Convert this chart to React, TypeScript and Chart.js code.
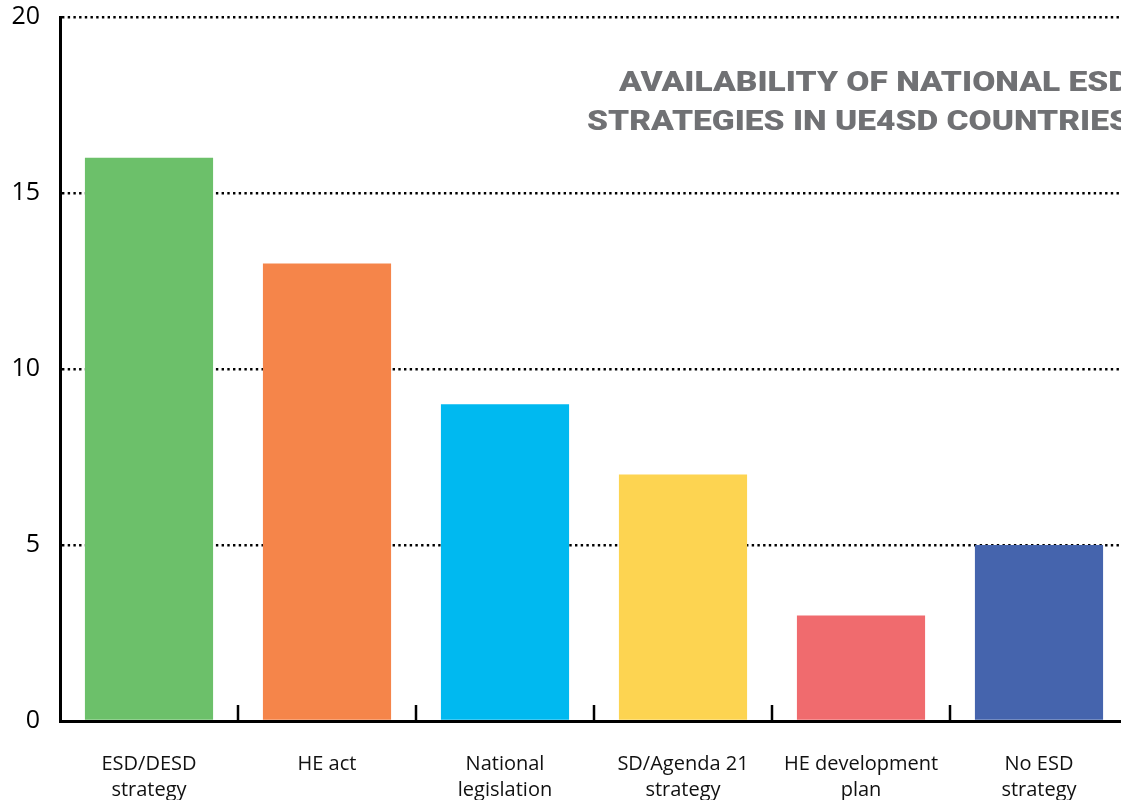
import React, { useEffect, useRef } from "react";
import { Chart, registerables } from "chart.js";

Chart.register(...registerables);

const categories: string[][] = [
  ["ESD/DESD", "strategy"],
  ["HE act"],
  ["National", "legislation"],
  ["SD/Agenda 21", "strategy"],
  ["HE development", "plan"],
  ["No ESD", "strategy"],
];
const values: number[] = [16, 13, 9, 7, 3, 5];
const barColors: string[] = ["#6cc06a", "#f5854a", "#00b9f0", "#fdd451", "#f06b6e", "#4564ad"];
const yTicks: number[] = [0, 5, 10, 15, 20];
const titleLines: string[] = ["AVAILABILITY OF NATIONAL ESD", "STRATEGIES IN UE4SD COUNTRIES"];

const SHIFT = 18;

const extrasPlugin = {
  id: "extras",
  afterDraw(chart: any) {
    const ctx = chart.ctx as CanvasRenderingContext2D;
    const x = chart.scales.x;
    const area = chart.chartArea;
    ctx.save();
    ctx.strokeStyle = "#000";
    ctx.lineWidth = 2.5;
    for (let i = 1; i < categories.length; i++) {
      const px = (x.getPixelForValue(i - 1) + x.getPixelForValue(i)) / 2;
      ctx.beginPath();
      ctx.moveTo(px, area.bottom);
      ctx.lineTo(px, area.bottom - 16);
      ctx.stroke();
    }
    ctx.restore();

    ctx.save();
    ctx.fillStyle = "#707174";
    ctx.font = "900 27px Roboto";
    ctx.textAlign = "right";
    ctx.textBaseline = "alphabetic";
    const w2 = ctx.measureText(titleLines[1]).width;
    const sx = 543 / w2;
    const R = 1130;
    const baselines = [91 + SHIFT, 130 + SHIFT];
    titleLines.forEach((t, i) => {
      ctx.save();
      ctx.translate(R, baselines[i]);
      ctx.scale(sx, 1);
      ctx.fillText(t, 0, 0);
      ctx.restore();
    });
    ctx.restore();
  },
};

export default function App() {
  const ref = useRef<HTMLCanvasElement>(null);
  useEffect(() => {
    if (!ref.current) return;
    const chart = new Chart(ref.current, {
      type: "bar",
      data: {
        labels: categories,
        datasets: [
          {
            data: values,
            backgroundColor: barColors,
            borderWidth: 0,
            barPercentage: 0.72,
            categoryPercentage: 1,
          },
        ],
      },
      options: {
        animation: false,
        responsive: true,
        maintainAspectRatio: false,
        layout: { padding: { top: -19, right: 7, left: 0, bottom: 0 } },
        plugins: {
          legend: { display: false },
          title: { display: false },
          tooltip: { enabled: false },
        },
        scales: {
          x: {
            offset: true,
            grid: { display: false, drawTicks: false },
            border: { display: true, color: "#000", width: 3 },
            ticks: {
              color: "#111",
              font: { family: "'Open Sans'", size: 20, lineHeight: 1.3 },
              padding: 30,
              maxRotation: 0,
              autoSkip: false,
            },
            afterFit: (s: any) => {
              s.height = 79;
            },
          },
          y: {
            min: 0,
            max: 20,
            z: 1,
            afterBuildTicks: (s: any) => {
              s.ticks = yTicks.map((v) => ({ value: v }));
            },
            grid: {
              color: (c: any) => (c.tick && c.tick.value === 0 ? "rgba(0,0,0,0)" : "#000"),
              lineWidth: 2.6,
              drawTicks: false,
            },
            border: { display: true, color: "#000", width: 3, dash: [2.4, 3.3] as any },
            ticks: {
              color: "#000",
              font: { family: "'Open Sans'", size: 25 },
              padding: 20,
            },
            afterFit: (s: any) => {
              s.width = 60;
            },
          },
        },
      },
      plugins: [extrasPlugin],
    });
    return () => chart.destroy();
  }, []);
  return (
    <div style={{ position: "fixed", left: 0, top: 0, width: 1121, height: 800, overflow: "hidden", background: "#fff" }}>
      <div style={{ position: "absolute", left: 0, top: -SHIFT, width: 1135, height: 800 + SHIFT }}>
        <canvas ref={ref} />
      </div>
    </div>
  );
}
